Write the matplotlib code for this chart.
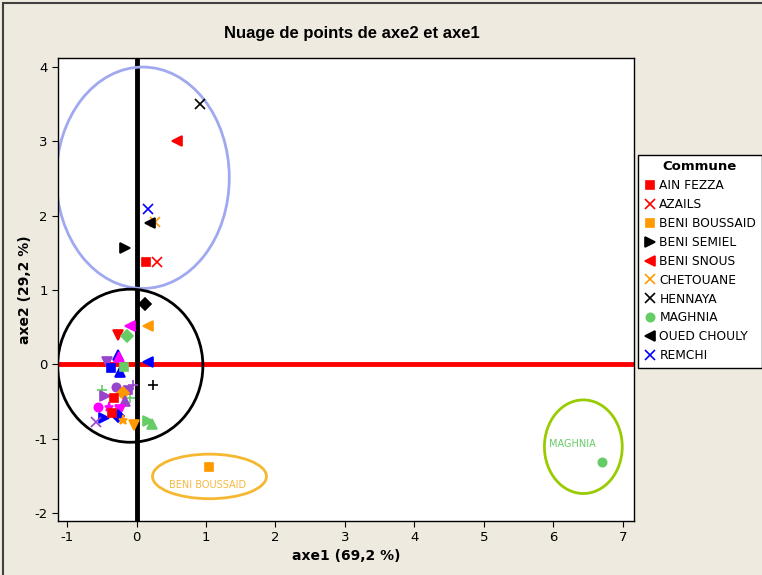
import matplotlib.pyplot as plt
from matplotlib.patches import Ellipse, Rectangle

plt.rcParams['axes.unicode_minus'] = False

# communes shown in the legend: (axe1 values, axe2 values)
communes = ["AIN FEZZA", "AZAILS", "BENI BOUSSAID", "BENI SEMIEL", "BENI SNOUS",
            "CHETOUANE", "HENNAYA", "MAGHNIA", "OUED CHOULY", "REMCHI"]
axe1 = [[0.14, -0.32, -0.35], [0.29], [1.05], [-0.16], [0.58],
        [0.26], [0.92], [6.70], [0.20], [0.17]]
axe2 = [[1.37, -0.45, -0.66], [1.38], [-1.38], [1.57], [3.00],
        [1.92], [3.50], [-1.32], [1.90], [2.09]]

# other communes (not listed in the visible part of the legend)
autres_axe1 = [[0.12], [0.24], [-0.10], [0.17], [-0.26], [-0.14], [-0.27, -0.24],
               [-0.25], [-0.42], [-0.36], [0.17], [-0.50, -0.10], [-0.30], [-0.12],
               [-0.05], [-0.46], [-0.20], [-0.17], [-0.56], [-0.40], [-0.24], [-0.26],
               [-0.19], [-0.47], [-0.59], [-0.04], [0.16], [0.23], [-0.18]]
autres_axe2 = [[0.81], [-0.28], [0.51], [0.51], [0.40], [0.38], [0.12, -0.10],
               [0.10], [0.03], [-0.05], [0.03], [-0.35, -0.46], [-0.31], [-0.34],
               [-0.28], [-0.43], [-0.39], [-0.50], [-0.58], [-0.58], [-0.62], [-0.70],
               [-0.75], [-0.72], [-0.78], [-0.82], [-0.76], [-0.80], [-0.04]]

RED, ORA, BLU, GRN, PUR, MAG, BLK = "#ff0000", "#ff9900", "#0000ff", "#66cc66", "#9944cc", "#ff00ff", "black"
styles = [(RED, "s"), (RED, "x"), (ORA, "s"), (BLK, ">"), (RED, "<"),
          (ORA, "x"), (BLK, "x"), (GRN, "o"), (BLK, "<"), (BLU, "x")]
autres_styles = [(BLK, "D"), (BLK, "+"), (MAG, "<"), (ORA, "<"), (RED, "v"), (GRN, "D"),
                 (BLU, "^"), (MAG, "^"), (PUR, "v"), (BLU, "s"), (BLU, "<"), (GRN, "+"),
                 (PUR, "o"), (PUR, "s"), (PUR, "+"), (PUR, ">"), (ORA, "D"), (PUR, "^"),
                 (MAG, "o"), (MAG, "*"), (MAG, "v"), (BLU, "D"), (ORA, "*"), (BLU, ">"),
                 (PUR, "x"), (ORA, "v"), (GRN, ">"), (GRN, "^"), (GRN, "s")]

fig = plt.figure(figsize=(7.62, 5.75), dpi=100, facecolor="#eeeae0")
fig.patches.append(Rectangle((0.004, -0.01), 1.1, 1.004, transform=fig.transFigure,
                             fill=False, edgecolor="#404040", lw=1.5))
ax = fig.add_axes([0.0761, 0.0939, 0.756, 0.805])
ax.set_facecolor("white")

ax.axhline(0, color="#ff0000", lw=3.5, zorder=1)
ax.axvline(0, color="black", lw=3.5, zorder=1)

def mk(m):
    if m in ("x", "+", "*"):
        return 6.5
    if m in ("<", ">", "^", "v"):
        return 7
    return 6

for xs, ys, (c, m) in zip(autres_axe1, autres_axe2, autres_styles):
    ax.plot(xs, ys, ls="none", marker=m, color=c, ms=mk(m), mew=1.2, zorder=3)

handles = []
for name, xs, ys, (c, m) in zip(communes, axe1, axe2, styles):
    h, = ax.plot(xs, ys, ls="none", marker=m, color=c, ms=mk(m), mew=1.2, zorder=3, label=name)
    handles.append(h)

# annotation ellipses
ax.add_patch(Ellipse((0.09, 2.51), 2.49, 2.98, fill=False, ec="#a0a8f0", lw=2, zorder=2))
ax.add_patch(Ellipse((-0.09, -0.02), 2.09, 2.06, fill=False, ec="black", lw=2, zorder=2))
ax.add_patch(Ellipse((1.05, -1.51), 1.64, 0.60, fill=False, ec="#f5b830", lw=2, zorder=2))
ax.add_patch(Ellipse((6.43, -1.11), 1.12, 1.26, fill=False, ec="#99cc00", lw=2, zorder=2))
ax.text(1.02, -1.63, "BENI BOUSSAID", color="#f5b940", fontsize=7, ha="center", va="center")
ax.text(6.27, -1.07, "MAGHNIA", color="#66cc66", fontsize=7, ha="center", va="center")

ax.set_xlim(-1.13, 7.16)
ax.set_ylim(-2.11, 4.12)
ax.set_xticks(range(-1, 8))
ax.set_yticks(range(-2, 5))
ax.tick_params(direction="out", length=4, labelsize=9.5)
for s in ax.spines.values():
    s.set_linewidth(1)

ax.set_xlabel("axe1 (69,2 %)", fontsize=10, fontweight="bold", labelpad=3)
ax.set_ylabel("axe2 (29,2 %)", fontsize=10, fontweight="bold", labelpad=2)
fig.text(0.462, 0.942, "Nuage de points de axe2 et axe1", fontsize=12,
         fontweight="bold", family="Liberation Sans", ha="center", va="center")

leg = fig.legend(handles=handles, title="Commune", loc="upper left",
                 bbox_to_anchor=(638 / 762, 1 - 155 / 575), borderaxespad=0,
                 fontsize=8.8, fancybox=False, framealpha=1, edgecolor="black",
                 handletextpad=0.3, handlelength=1.0, labelspacing=0.48,
                 borderpad=0.45)
leg.get_title().set_fontweight("bold")
leg.get_title().set_fontsize(9.5)

fig.savefig("out.png", dpi=100, facecolor=fig.get_facecolor())
